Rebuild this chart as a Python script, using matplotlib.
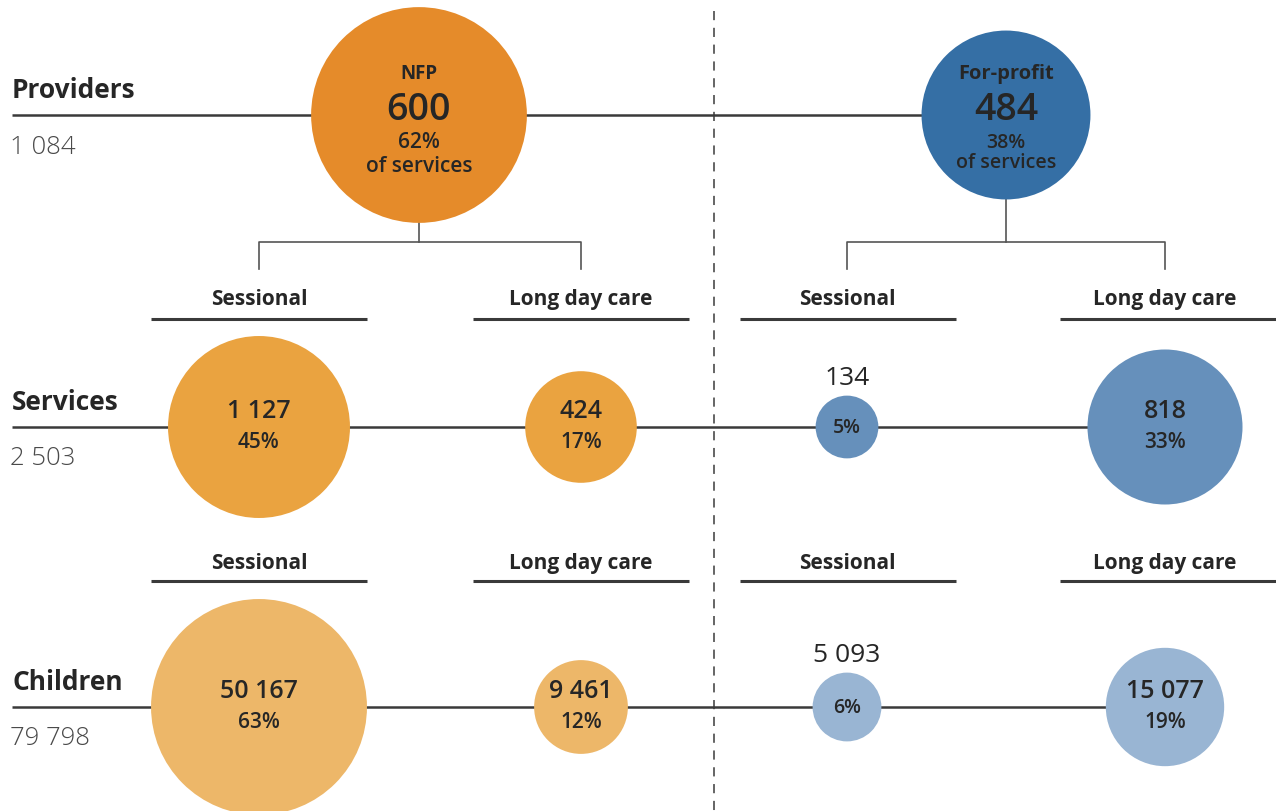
import numpy as np
import matplotlib
matplotlib.use("Agg")
import matplotlib.pyplot as plt
from matplotlib.patches import Circle

# ---- data ----
sectors = ["NFP", "For-profit"]
provider_counts = [600, 484]
provider_share = [62, 38]          # % of services
service_types = ["Sessional", "Long day care"]
services_counts = [1127, 424, 134, 818]   # NFP sess, NFP LDC, FP sess, FP LDC
services_pct = [45, 17, 5, 33]
children_counts = [50167, 9461, 5093, 15077]
children_pct = [63, 12, 6, 19]
row_labels = ["Providers", "Services", "Children"]
row_totals = [1084, 2503, 79798]

# ---- style ----
FONT = "Open Sans"
plt.rcParams["font.family"] = [FONT, "DejaVu Sans"]
TXT = "#262626"
LINE = "#3a3a3a"
prov_colors = ["#E58B2A", "#356FA5"]
serv_colors = ["#EAA340", "#EAA340", "#6690BB", "#6690BB"]
child_colors = ["#EDB769", "#EDB769", "#99B5D3", "#99B5D3"]

def fmt(n):
    return f"{n:,}".replace(",", " ")

W, H = 1276, 812
fig = plt.figure(figsize=(W / 100, H / 100), dpi=100)
ax = fig.add_axes([0, 0, 1, 1])
ax.set_xlim(0, W)
ax.set_ylim(H, 0)
ax.set_aspect("equal")
ax.axis("off")

# layout
row_y = [116, 428, 708]
prov_x = [419, 1006]
sub_x = [259, 581, 847, 1165]
header_y = [300, 564]
underline_y = [320, 582]
underline_span = [(151, 367), (473, 689), (740, 956), (1060, 1276)]

# dashed divider
ax.plot([714, 714], [12, H], color=LINE, lw=1.1, ls=(0, (6, 5)), zorder=1)

# radii
prov_r = [13.7 * np.sqrt(p) for p in provider_share]
serv_r = [2.71 * np.sqrt(v) for v in services_counts]
child_r = [0.482 * np.sqrt(v) for v in children_counts]

# row lines (to last circle)
ends = [prov_x[-1], sub_x[-1], sub_x[-1]]
for y, xe in zip(row_y, ends):
    ax.plot([12, xe], [y, y], color=LINE, lw=1.8, zorder=1, solid_capstyle="butt")

# row labels
for lbl, tot, y in zip(row_labels, row_totals, row_y):
    ax.text(12, y - 25, lbl, fontsize=19, fontweight="bold", color=TXT,
            ha="left", va="center")
    ax.text(10, y + 31, fmt(tot), fontsize=18.5, fontweight="light", color="#4a4a4a",
            ha="left", va="center")

# provider circles
for i in range(2):
    cx, cy, r = prov_x[i], row_y[0], prov_r[i]
    ax.add_patch(Circle((cx, cy), r, color=prov_colors[i], zorder=2, lw=0))
    ax.text(cx, cy - 42, sectors[i], fontsize=13.5 if i == 0 else 14.5,
            fontweight="bold", color=TXT, ha="center", va="center", zorder=3)
    ax.text(cx, cy - 6, fmt(provider_counts[i]), fontsize=27, color=TXT,
            ha="center", va="center", zorder=3, fontweight="semibold")
    ax.text(cx, cy + 27, f"{provider_share[i]}%", fontsize=15 if i == 0 else 14,
            color=TXT, ha="center", va="center", zorder=3, fontweight="semibold")
    ax.text(cx, cy + 51 if i == 0 else cy + 47, "of services",
            fontsize=15 if i == 0 else 14, color=TXT, ha="center", va="center",
            zorder=3, fontweight="semibold")
    # tree connector
    ybot = cy + r
    xl, xr = sub_x[2 * i], sub_x[2 * i + 1]
    ax.plot([cx, cx], [ybot, 243], color="#555555", lw=1.2, zorder=1)
    ax.plot([xl, xl, xr, xr], [270, 243, 243, 270], color="#555555", lw=1.2, zorder=1)

# sub headers
for hy, uy in zip(header_y, underline_y):
    for j, x in enumerate(sub_x):
        ax.text(x, hy, service_types[j % 2], fontsize=15, fontweight="bold",
                color=TXT, ha="center", va="center")
        x0, x1 = underline_span[j]
        ax.plot([x0, x1], [uy, uy], color=LINE, lw=2.2, solid_capstyle="butt")

# bubble rows
def bubble_row(y, counts, pcts, radii, colors):
    for x, c, p, r, col in zip(sub_x, counts, pcts, radii, colors):
        ax.add_patch(Circle((x, y), r, color=col, zorder=2, lw=0))
        if r > 40:
            ax.text(x, y - 16, fmt(c), fontsize=18, fontweight="semibold", color=TXT,
                    ha="center", va="center", zorder=3)
            ax.text(x, y + 15, f"{p}%", fontsize=15, color=TXT, fontweight="semibold",
                    ha="center", va="center", zorder=3)
        else:
            ax.text(x, y - r - 18, fmt(c), fontsize=19, color=TXT,
                    ha="center", va="center", zorder=3)
            ax.text(x, y, f"{p}%", fontsize=14, color=TXT, fontweight="semibold",
                    ha="center", va="center", zorder=3)

bubble_row(row_y[1], services_counts, services_pct, serv_r, serv_colors)
bubble_row(row_y[2], children_counts, children_pct, child_r, child_colors)

fig.savefig("out.png", dpi=100, facecolor="white")
